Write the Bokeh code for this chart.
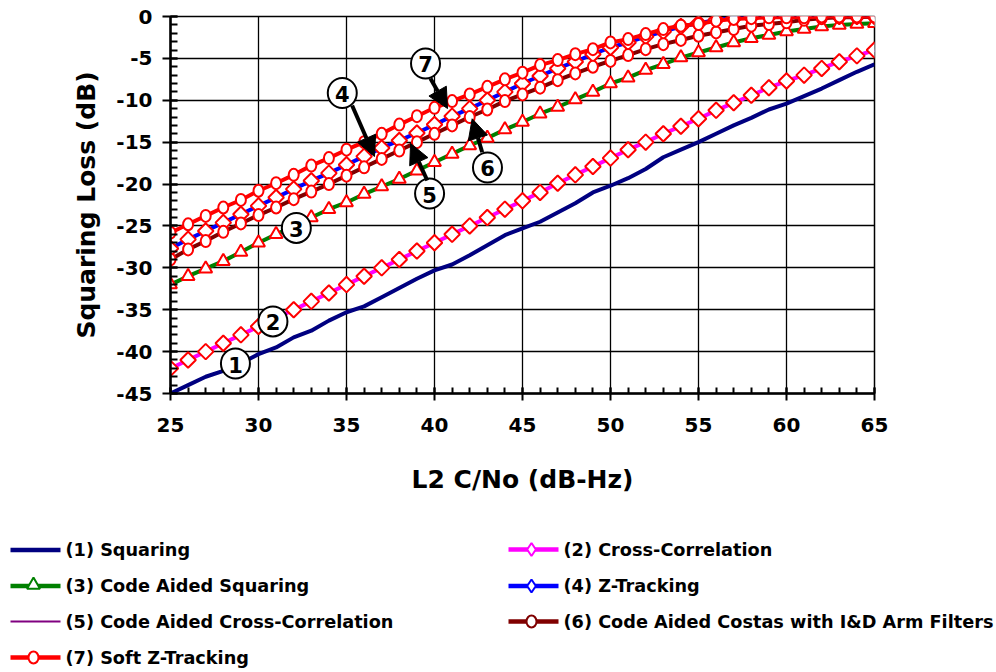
import numpy as np
from bokeh.plotting import figure
from bokeh.models import FixedTicker, Arrow, NormalHead, Range1d
from bokeh.core.properties import value
from bokeh.embed import file_html
from bokeh.resources import INLINE

# L2 carrier-to-noise density (dB-Hz)
cn0 = list(range(25, 66))

# Squaring loss (dB) per tracking technique
squaring = [-45.0, -44.0, -43.0, -42.3, -41.4, -40.3, -39.5, -38.3, -37.5, -36.3,
            -35.3, -34.6, -33.5, -32.4, -31.3, -30.3, -29.6, -28.5, -27.3, -26.1,
            -25.3, -24.5, -23.4, -22.3, -21.0, -20.2, -19.3, -18.2, -16.8, -15.9,
            -15.0, -14.0, -13.0, -12.1, -11.1, -10.4, -9.5, -8.6, -7.6, -6.6, -5.7]
cross_corr = [-42.0, -41.0, -40.0, -39.0, -38.0, -37.0, -36.0, -35.0, -34.0, -33.0,
              -32.0, -31.0, -30.0, -29.0, -28.0, -27.0, -26.0, -25.0, -24.0, -23.0,
              -22.0, -21.0, -19.9, -18.9, -17.9, -16.9, -15.9, -15.0, -14.0, -13.1,
              -12.2, -11.2, -10.3, -9.4, -8.5, -7.7, -7.0, -6.2, -5.4, -4.7, -4.0]
ca_squaring = [-32.0, -31.0, -30.1, -29.2, -28.1, -27.0, -26.0, -25.0, -24.0, -23.0,
               -22.2, -21.2, -20.3, -19.4, -18.4, -17.4, -16.4, -15.4, -14.5, -13.5,
               -12.6, -11.6, -10.8, -9.9, -9.0, -8.0, -7.3, -6.4, -5.7, -4.9,
               -4.3, -3.7, -3.1, -2.6, -2.2, -1.8, -1.5, -1.2, -1.0, -0.9, -0.8]
z_tracking = [-27.7, -26.6, -25.6, -24.6, -23.6, -22.6, -21.6, -20.6, -19.6, -18.7,
              -17.7, -16.7, -15.7, -14.8, -13.9, -12.9, -11.9, -11.0, -10.0, -9.0,
              -8.0, -7.1, -6.2, -5.4, -4.5, -3.7, -3.1, -2.4, -1.8, -1.2,
              -0.8, -0.4, -0.2, -0.1, 0.0, 0.0, 0.0, 0.0, 0.0, 0.0, 0.0]
ca_cross_corr = [-28.9, -27.8, -26.8, -25.7, -24.7, -23.7, -22.8, -21.8, -20.9, -20.0,
                 -19.0, -18.0, -17.0, -16.0, -15.0, -14.0, -13.0, -12.0, -11.1, -10.1,
                 -9.3, -8.5, -7.6, -6.8, -6.0, -5.3, -4.6, -3.9, -3.3, -2.8,
                 -2.3, -1.9, -1.5, -1.1, -0.9, -0.7, -0.4, -0.2, -0.1, -0.1, 0.0]
ca_costas = [-29.0, -27.8, -26.8, -25.7, -24.7, -23.7, -22.8, -21.8, -20.9, -20.0,
             -19.0, -18.0, -17.0, -16.0, -15.0, -14.0, -13.0, -12.0, -11.1, -10.1,
             -9.3, -8.5, -7.6, -6.8, -6.0, -5.3, -4.6, -3.9, -3.3, -2.8,
             -2.3, -1.9, -1.5, -1.1, -0.9, -0.7, -0.4, -0.2, -0.1, -0.1, 0.0]
soft_z = [-25.8, -24.8, -23.8, -22.8, -21.9, -20.8, -19.9, -18.9, -17.8, -16.9,
          -15.9, -15.0, -14.0, -12.9, -11.9, -10.9, -10.1, -9.3, -8.4, -7.5,
          -6.7, -5.8, -5.2, -4.5, -3.9, -3.1, -2.7, -2.1, -1.5, -1.1,
          -0.9, -0.5, -0.3, -0.2, -0.1, -0.1, -0.1, 0.0, 0.0, 0.0, 0.0]

series_names = ["(1) Squaring", "(2) Cross-Correlation", "(3) Code Aided Squaring",
                "(4) Z-Tracking", "(5) Code Aided Cross-Correlation",
                "(6) Code Aided Costas with I&D Arm Filters", "(7) Soft Z-Tracking"]
series_colors = ["#000080", "#FF00FF", "#008000", "#0000FF", "#800080", "#800000", "#FF0000"]
series_markers = [None, "diamond", "triangle", "diamond", None, "circle", "circle"]
series_widths = [4, 4, 4, 4, 1.5, 4, 4]
series_values = [squaring, cross_corr, ca_squaring, z_tracking, ca_cross_corr, ca_costas, soft_z]

# Callout numbers with their arrows (data coordinates)
callout_text = ["1", "2", "3", "4", "5", "6", "7"]
callout_x = [28.69, 30.82, 32.15, 34.76, 39.72, 43.01, 39.49]
callout_y = [-41.42, -36.4, -25.24, -9.13, -21.13, -18.02, -5.61]
arrow_x0 = [35.32, 39.59, 42.71, 39.77]
arrow_y0 = [-10.62, -19.57, -16.2, -7.40]
arrow_x1 = [36.59, 38.64, 42.14, 40.74]
arrow_y1 = [-16.71, -15.16, -12.21, -10.98]

x_ticks = list(range(25, 66, 5))
y_ticks = list(range(-45, 1, 5))

FONT = "DejaVu Sans"

p = figure(width=996, height=520, x_range=Range1d(25, 65), y_range=Range1d(-45, 0),
           output_backend="svg", toolbar_location=None,
           min_border_left=170, min_border_right=122, min_border_top=16, min_border_bottom=127,
           x_axis_label="L2 C/No (dB-Hz)", y_axis_label="Squaring Loss (dB)")
p.background_fill_color = "white"
p.border_fill_color = "white"
p.outline_line_color = "black"
p.outline_line_width = 1.5

p.xaxis.ticker = FixedTicker(ticks=x_ticks, minor_ticks=list(range(25, 66)))
p.yaxis.ticker = FixedTicker(ticks=y_ticks, minor_ticks=list(range(-45, 1)))
p.yaxis.major_label_overrides = {t: str(t) for t in y_ticks}

for ax in (p.xaxis, p.yaxis):
    ax.axis_line_color = "black"
    ax.axis_line_width = 2.5
    ax.major_tick_line_color = "black"
    ax.major_tick_line_width = 2
    ax.minor_tick_line_color = "black"
    ax.minor_tick_line_width = 2
    ax.major_label_text_font = FONT
    ax.major_label_text_font_style = "bold"
    ax.major_label_text_font_size = "20px"
    ax.major_label_text_color = "black"
    ax.axis_label_text_font = FONT
    ax.axis_label_text_font_style = "bold"
    ax.axis_label_text_font_size = "25px"
    ax.axis_label_text_color = "black"

p.xaxis.major_tick_in = 6
p.xaxis.major_tick_out = 7
p.xaxis.minor_tick_in = 6
p.xaxis.minor_tick_out = 0
p.xaxis.major_label_standoff = 17
p.xaxis.axis_label_standoff = 30

p.yaxis.major_tick_in = 7
p.yaxis.major_tick_out = 8
p.yaxis.minor_tick_in = 7
p.yaxis.minor_tick_out = 0
p.yaxis.major_label_standoff = 10
p.yaxis.axis_label_standoff = 12

for g in (p.xgrid, p.ygrid):
    g.grid_line_color = "black"
    g.grid_line_width = 1.3
    g.grid_line_alpha = 1.0

# Curves with their markers
for vals, color, marker, lw in zip(series_values, series_colors, series_markers, series_widths):
    p.line(cn0, vals, line_color=color, line_width=lw)
    if marker == "diamond":
        p.scatter(cn0, vals, marker="square", angle=np.pi / 4, size=11,
                  line_color="#FF0000", line_width=2, fill_color="white")
    elif marker == "triangle":
        p.scatter(cn0, vals, marker="triangle", size=13,
                  line_color="#FF0000", line_width=2, fill_color="white")
    elif marker == "circle":
        p.ellipse(cn0, vals, width=10, height=12, width_units="screen", height_units="screen",
                  line_color="#FF0000", line_width=2, fill_color="white")

# Arrows pointing from callouts to curves
for xs, ys, xe, ye in zip(arrow_x0, arrow_y0, arrow_x1, arrow_y1):
    p.add_layout(Arrow(end=NormalHead(size=20, fill_color="black", line_color="black", line_width=1),
                       x_start=xs, y_start=ys, x_end=xe, y_end=ye,
                       line_color="black", line_width=4))

p.ellipse(callout_x, callout_y, width=29, height=30, width_units="screen", height_units="screen",
          fill_color="white", line_color="black", line_width=2)
p.text(callout_x, callout_y, text=callout_text, text_align="center", text_baseline="middle",
       text_font=value(FONT), text_font_style="bold", text_font_size="21px", text_color="black",
       y_offset=1)

# Legend panel under the chart, laid out in pixel coordinates
q = figure(width=996, height=152, x_range=Range1d(0, 996), y_range=Range1d(152, 0),
           output_backend="svg", toolbar_location=None, x_axis_type=None, y_axis_type=None,
           min_border=0)
q.outline_line_color = None
q.grid.visible = False
q.background_fill_color = "white"
q.border_fill_color = "white"

leg_left = [10, 508, 10, 508, 10, 508, 10]
leg_mid_y = [29.5, 29, 65.5, 65.5, 101, 101, 137]
for i, (name, color, marker, lw) in enumerate(zip(series_names, series_colors, series_markers, series_widths)):
    x0 = leg_left[i]
    y = leg_mid_y[i]
    q.line([x0, x0 + 50], [y, y], line_color=color, line_width=lw + 0.5 if lw > 2 else 2)
    mx = x0 + 23
    if marker == "diamond":
        q.scatter([mx], [y], marker="diamond", size=13, line_color=color, line_width=2, fill_color="white")
    elif marker == "triangle":
        q.scatter([mx], [y - 1], marker="triangle", size=13, line_color=color, line_width=2, fill_color="white")
    elif marker == "circle":
        q.ellipse([mx], [y], width=10, height=12, width_units="screen", height_units="screen",
                  line_color=color, line_width=2, fill_color="white")
    q.text([x0 + 55], [y], text=[name], text_align="left", text_baseline="middle",
           text_font=value(FONT), text_font_style="bold", text_font_size="17.7px", text_color="black")

open("out.html", "w").write(file_html([p, q], INLINE))
